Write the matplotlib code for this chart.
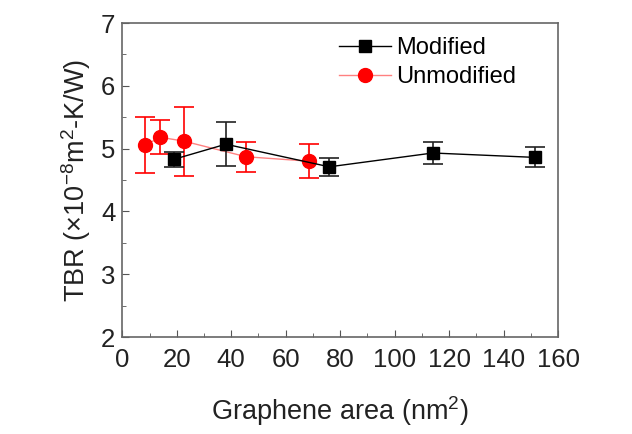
import matplotlib
matplotlib.use("Agg")
import matplotlib.pyplot as plt
from matplotlib.ticker import MultipleLocator
from matplotlib.lines import Line2D

plt.rcParams['font.family'] = ['Liberation Sans', 'DejaVu Sans']
plt.rcParams['mathtext.fontset'] = 'custom'
plt.rcParams['mathtext.rm'] = 'Liberation Sans'
plt.rcParams['mathtext.it'] = 'Liberation Sans'
plt.rcParams['mathtext.default'] = 'regular'

# modified graphene
mod_x = [19, 38, 76, 114, 151.5]
mod_y = [4.83, 5.07, 4.71, 4.93, 4.86]
mod_err = [0.12, 0.35, 0.14, 0.18, 0.16]

# unmodified graphene
unmod_x = [8.5, 14, 22.5, 45.5, 68.5]
unmod_y = [5.06, 5.18, 5.12, 4.87, 4.80]
unmod_err = [0.45, 0.27, 0.55, 0.24, 0.27]

fig = plt.figure(figsize=(6.32, 4.34), dpi=100)
ax = fig.add_axes([0.1935, 0.2235, 0.6895, 0.7235])

ax.errorbar(unmod_x, unmod_y, yerr=unmod_err, color='#ff8080', lw=1,
            marker='o', ms=10, mfc='red', mec='red', ecolor='red',
            elinewidth=1.2, capsize=7, capthick=1.2, zorder=2)
ax.errorbar(mod_x, mod_y, yerr=mod_err, color='black', lw=1,
            marker='s', ms=8, mfc='black', mec='black', ecolor='#222222',
            elinewidth=1.2, capsize=7, capthick=1.2, zorder=3)

ax.set_xlim(0, 160)
ax.set_ylim(2, 7)
ax.xaxis.set_major_locator(MultipleLocator(20))
ax.xaxis.set_minor_locator(MultipleLocator(10))
ax.yaxis.set_major_locator(MultipleLocator(1))
ax.yaxis.set_minor_locator(MultipleLocator(0.5))
ax.tick_params(which='both', direction='in', color='#555555', labelsize=18.5,
               labelcolor='#222222')
ax.tick_params(which='major', length=5)
ax.tick_params(axis='x', pad=8)
ax.tick_params(axis='y', pad=5)
ax.tick_params(which='minor', length=3)
for s in ax.spines.values():
    s.set_color('#666666')
    s.set_linewidth(1.2)

ax.set_xlabel('Graphene area (nm$^2$)', fontsize=19.5, color='#222222', labelpad=16)
ax.set_ylabel('TBR (×10$^{-8}$m$^2$-K/W)', fontsize=19.5, color='#222222', labelpad=6)

handles = [
    Line2D([], [], color='black', lw=1, marker='s', ms=8),
    Line2D([], [], color='#ff8080', lw=1, marker='o', ms=10, mfc='red', mec='red'),
]
ax.legend(handles, ['Modified', 'Unmodified'], loc='upper left',
          bbox_to_anchor=(0.448, 1.022), frameon=False, fontsize=17,
          handlelength=2.2, handletextpad=0.25, labelspacing=0.3)

fig.savefig('out.png', dpi=100)
